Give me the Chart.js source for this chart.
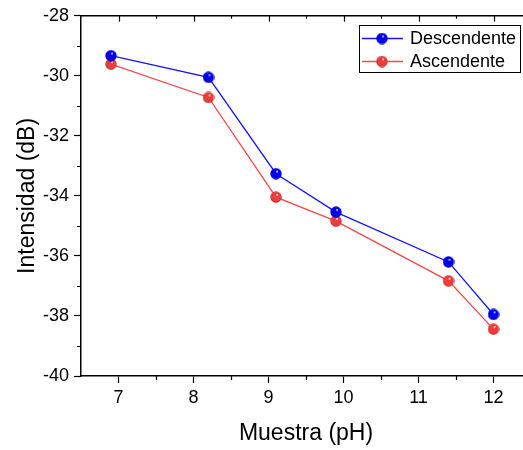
<!DOCTYPE html>
<html>
<head>
<meta charset="utf-8">
<script src="https://cdn.jsdelivr.net/npm/chart.js@4/dist/chart.umd.min.js"></script>
<style>
  html, body { margin: 0; padding: 0; background: #fff; overflow: hidden; }
  canvas { display: block; }
</style>
</head>
<body>
<canvas id="c" width="540" height="450"></canvas>
<script>
// pH of each sample and measured intensity (dB) for both sweeps
const pH = [6.9, 8.2, 9.1, 9.9, 11.4, 12.0];
const descendente = [-29.33, -30.05, -33.26, -34.54, -36.20, -37.95];
const ascendente = [-29.61, -30.72, -34.04, -34.84, -36.83, -38.44];
const seriesNames = ['Descendente', 'Ascendente'];
const xTicks = [7, 8, 9, 10, 11, 12];
const yTicks = [-40, -38, -36, -34, -32, -30, -28];

const FONT = '"Liberation Sans", Arial, sans-serif';
const BLUE = '#1515ff';
const RED = '#f04a4a';

// Small shaded ball used as the point marker
function sphere(base, dark) {
  const s = 12;
  const c = document.createElement('canvas');
  c.width = s; c.height = s;
  const g = c.getContext('2d');
  const grd = g.createRadialGradient(7.2, 3.6, 0.2, 6, 6, 6.2);
  grd.addColorStop(0, '#ffffff');
  grd.addColorStop(0.2, base);
  grd.addColorStop(0.75, base);
  grd.addColorStop(1, dark);
  g.fillStyle = grd;
  g.beginPath();
  g.arc(6, 6, 5.7, 0, Math.PI * 2);
  g.fill();
  return c;
}
const blueBall = sphere('#0000f0', '#00008a');
const redBall = sphere('#ec3c3c', '#a51c1c');

const toPoints = ys => pH.map((x, i) => ({ x, y: ys[i] }));

// Minor ticks, mirrored top ticks and the boxed legend
const decorations = {
  id: 'decorations',
  afterDraw(chart) {
    const { ctx, chartArea: a, scales: { x, y } } = chart;
    ctx.save();
    ctx.strokeStyle = '#000';
    ctx.lineWidth = 1.2;
    ctx.beginPath();
    for (let i = 0; i < yTicks.length - 1; i++) {
      const v = (yTicks[i] + yTicks[i + 1]) / 2;
      const py = Math.round(y.getPixelForValue(v)) + 0.5;
      ctx.moveTo(a.left, py); ctx.lineTo(a.left - 4, py);
    }
    for (let i = 0; i < xTicks.length - 1; i++) {
      const v = (xTicks[i] + xTicks[i + 1]) / 2;
      const px = Math.round(x.getPixelForValue(v)) + 0.5;
      ctx.moveTo(px, a.bottom); ctx.lineTo(px, a.bottom + 4);
      ctx.moveTo(px, a.top); ctx.lineTo(px, a.top + 3);
    }
    xTicks.forEach(v => {
      const px = Math.round(x.getPixelForValue(v)) + 0.5;
      ctx.moveTo(px, a.top); ctx.lineTo(px, a.top + 6);
    });
    ctx.stroke();
    // top frame line
    ctx.lineWidth = 1.5;
    ctx.beginPath();
    ctx.moveTo(a.left, a.top); ctx.lineTo(a.right, a.top);
    ctx.stroke();

    // legend
    const bx = 359.5, by = 25.5, bw = 161, bh = 47;
    ctx.lineWidth = 1;
    ctx.strokeRect(bx, by, bw, bh);
    const rows = [
      { name: seriesNames[0], color: BLUE, img: blueBall, y: 38.5 },
      { name: seriesNames[1], color: RED, img: redBall, y: 61.5 }
    ];
    ctx.font = '18px ' + FONT;
    ctx.textBaseline = 'middle';
    ctx.textAlign = 'left';
    rows.forEach(r => {
      ctx.strokeStyle = r.color;
      ctx.lineWidth = 1.3;
      ctx.beginPath();
      ctx.moveTo(362, r.y); ctx.lineTo(403, r.y);
      ctx.stroke();
      ctx.drawImage(r.img, 382 - 6, r.y - 6);
      ctx.fillStyle = '#000';
      ctx.fillText(r.name, 410, r.y + 1);
    });
    ctx.restore();
  }
};

new Chart(document.getElementById('c'), {
  type: 'line',
  data: {
    datasets: [
      {
        label: seriesNames[0],
        data: toPoints(descendente),
        borderColor: BLUE,
        borderWidth: 1.3,
        pointStyle: blueBall,
        pointRadius: 6,
        tension: 0
      },
      {
        label: seriesNames[1],
        data: toPoints(ascendente),
        borderColor: RED,
        borderWidth: 1.3,
        pointStyle: redBall,
        pointRadius: 6,
        tension: 0
      }
    ]
  },
  options: {
    responsive: false,
    animation: false,
    layout: { padding: { top: 15, right: 9, left: 0, bottom: 0 } },
    plugins: { legend: { display: false }, tooltip: { enabled: false } },
    scales: {
      x: {
        type: 'linear',
        min: 6.5,
        max: 12.5,
        afterBuildTicks: s => { s.ticks = xTicks.map(v => ({ value: v })); },
        afterFit: s => { s.height = 74; },
        border: { color: '#000', width: 1.5 },
        grid: { drawOnChartArea: false, drawTicks: true, tickLength: 7, tickWidth: 1.2, tickColor: '#000' },
        ticks: {
          padding: 4,
          color: '#000',
          font: { family: FONT, size: 18 },
          maxRotation: 0,
          autoSkip: false,
          callback: v => String(v)
        },
        title: {
          display: true,
          text: 'Muestra (pH)',
          color: '#000',
          font: { family: FONT, size: 23 },
          padding: { top: 0, bottom: 3 }
        }
      },
      y: {
        type: 'linear',
        min: -40,
        max: -28,
        afterBuildTicks: s => { s.ticks = yTicks.map(v => ({ value: v })); },
        afterFit: s => { s.width = 81; },
        border: { color: '#000', width: 1.5 },
        grid: { drawOnChartArea: false, drawTicks: true, tickLength: 7, tickWidth: 1.2, tickColor: '#000' },
        ticks: {
          padding: 5,
          color: '#000',
          font: { family: FONT, size: 18 },
          autoSkip: false,
          callback: v => String(v)
        },
        title: {
          display: true,
          text: 'Intensidad (dB)',
          color: '#000',
          font: { family: FONT, size: 23 },
          padding: { top: 14, bottom: 0 }
        }
      }
    }
  },
  plugins: [decorations]
});
</script>
</body>
</html>
